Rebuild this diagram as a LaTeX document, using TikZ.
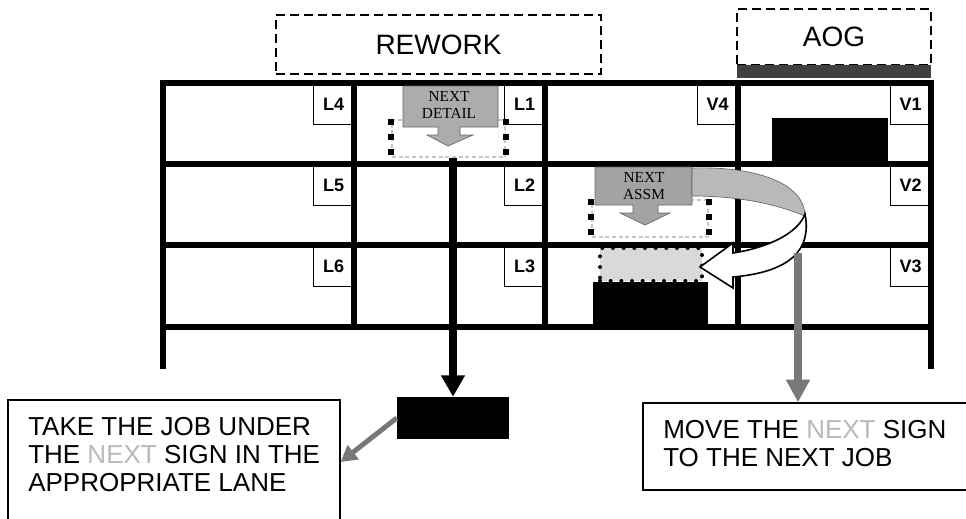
\documentclass[tikz,border=0pt]{standalone}
\usepackage{fontspec}
\setmainfont{Liberation Sans}
\newfontfamily\signfont{Liberation Serif}
\usetikzlibrary{arrows.meta}

\definecolor{arrowgray}{gray}{0.47}

\tikzset{
  lane/.style={line width=5pt, line cap=rect},
  tag/.style={draw, line width=0.6pt, fill=white, anchor=north east,
    minimum width=30pt, minimum height=31pt, inner sep=0pt,
    font=\bfseries\fontsize{13.5}{13.5}\selectfont},
  area/.style={draw, dash pattern=on 6.5pt off 4pt, line width=1.6pt,
    inner sep=0pt, font=\fontsize{21}{21}\selectfont},
  sign/.style={draw=black!60, line width=0.5pt, fill=gray!65},
  signtext/.style={align=center, inner sep=0pt,
    font=\signfont\fontsize{11.5}{12.5}\selectfont},
  slot/.style={draw=gray!45, dash pattern=on 3pt off 2pt, line width=1pt, inner sep=0pt},
  slotdots/.style={line width=4.5pt, dash pattern=on 4.5pt off 6.5pt},
  job/.style={fill=black, inner sep=0pt},
  note/.style={draw, line width=1pt, inner sep=0pt},
  notetext/.style={align=left, anchor=north west, inner sep=0pt,
    font=\fontsize{19.5}{21}\selectfont},
  flow/.style={line width=6pt, -{Triangle[width=17pt,length=16pt]}},
  hintflow/.style={draw=arrowgray, line width=5.5pt, -{Triangle[width=17pt,length=17pt]}},
}

\begin{document}
\begin{tikzpicture}[x=0.75pt, y=-0.75pt]
    \useasboundingbox (0,0) rectangle (966,518);

    % Zones de dalt
    \node[area, minimum width=243.75pt, minimum height=44.25pt] (rework) at (438.5,44.5) {REWORK};
    \node[area, minimum width=145.5pt, minimum height=42pt] (aog) at (834,37) {AOG};
    \fill[black!75] (737,65) rectangle (931,78);

    % Etiquetes dels carrils
    \node[tag] (l4) at (354,83) {L4};
    \node[tag] (l1) at (545,83) {L1};
    \node[tag] (v4) at (738,83) {V4};
    \node[tag] (v1) at (931,83) {V1};
    \node[tag] (l5) at (354,164) {L5};
    \node[tag] (l2) at (545,164) {L2};
    \node[tag] (v2) at (931,164) {V2};
    \node[tag] (l6) at (354,245) {L6};
    \node[tag] (l3) at (545,245) {L3};
    \node[tag] (v3) at (931,245) {V3};

    % Feines dins dels carrils
    \node[job, minimum width=87pt, minimum height=32.25pt] (aogjob) at (830,139.5) {};
    \node[job, minimum width=86.25pt, minimum height=33pt] (assmjob) at (650.5,304) {};
    \node[fill=gray!30, draw, line width=3pt, dash pattern=on 0pt off 8pt, line cap=round,
      minimum width=76.5pt, minimum height=24.75pt] (nextjob) at (651,264.5) {};

    % Reixa del tauler
    \foreach \y in {83,164,245,327}
        \draw[lane] (163,\y) -- (931,\y);
    \foreach \x in {354,545,738}
        \draw[lane] (\x,83) -- (\x,327);
    \draw[lane] (163,83) -- (163,366);
    \draw[lane] (931,83) -- (931,366);

    % Forats sota els senyals
    \node[slot, minimum width=84.75pt, minimum height=27.75pt] (detailslot) at (448.5,138.5) {};
    \node[slot, minimum width=87pt, minimum height=27.75pt] (assmslot) at (650,218.5) {};
    \draw[slotdots] (detailslot.north west) -- (detailslot.south west);
    \draw[slotdots] (detailslot.north east) -- (detailslot.south east);
    \draw[slotdots] (assmslot.north west) -- (assmslot.south west);
    \draw[slotdots] (assmslot.north east) -- (assmslot.south east);

    % Senyal NEXT DETAIL
    \filldraw[sign] (403,86) -- (498,86) -- (498,127) -- (460,127) -- (460,135) -- (473,135)
        -- (448,146) -- (427,135) -- (438,135) -- (438,127) -- (403,127) -- cycle;
    \node[signtext] (nextdetail) at (449,105) {NEXT\\DETAIL};

    % Senyal NEXT ASSM
    \filldraw[sign, fill=gray!72] (595,167) -- (692,167) -- (692,205) -- (658,205) -- (658,213)
        -- (670,213) -- (645,225) -- (620,213) -- (633,213) -- (633,205) -- (595,205) -- cycle;
    \node[signtext] (nextassm) at (644,186) {NEXT\\ASSM};

    % Fletxa corba: el senyal passa a la feina seguent
    \filldraw[sign, fill=gray!55] (692,168) .. controls (760,166) and (805,185) .. (805,216)
        .. controls (785,208) and (750,196) .. (692,196) -- cycle;
    \filldraw[fill=white, line width=1.2pt] (805,214) .. controls (812,250) and (790,272) .. (733,277)
        -- (733,288) -- (700,267) -- (733,243) -- (733,253)
        .. controls (765,248) and (797,235) .. (805,214) -- cycle;

    % Notes de baix
    \node[job, minimum width=84pt, minimum height=31.5pt] (jobdone) at (453,418) {};
    \node[note, minimum width=249pt, minimum height=93pt] (takebox) at (174,462) {};
    \node[notetext] (taketext) at (28,417)
        {TAKE THE JOB UNDER\\THE \textcolor{gray!55}{NEXT} SIGN IN THE\\APPROPRIATE LANE};
    \node[note, minimum width=249pt, minimum height=65.25pt] (movebox) at (809,446.5) {};
    \node[notetext] (movetext) at (663,420)
        {MOVE THE \textcolor{gray!55}{NEXT} SIGN\\TO THE NEXT JOB};

    % Connectors
    \coordinate (movestart) at (798,253);
    \draw[flow] (jobdone.north |- detailslot.south) -- (jobdone.north);
    \draw[hintflow] (movestart) -- (movestart |- movebox.north);
    \draw[hintflow, line width=3.75pt, -{Triangle[width=13pt,length=12pt]}] (jobdone.west) -- (takebox.east);
\end{tikzpicture}
\end{document}
